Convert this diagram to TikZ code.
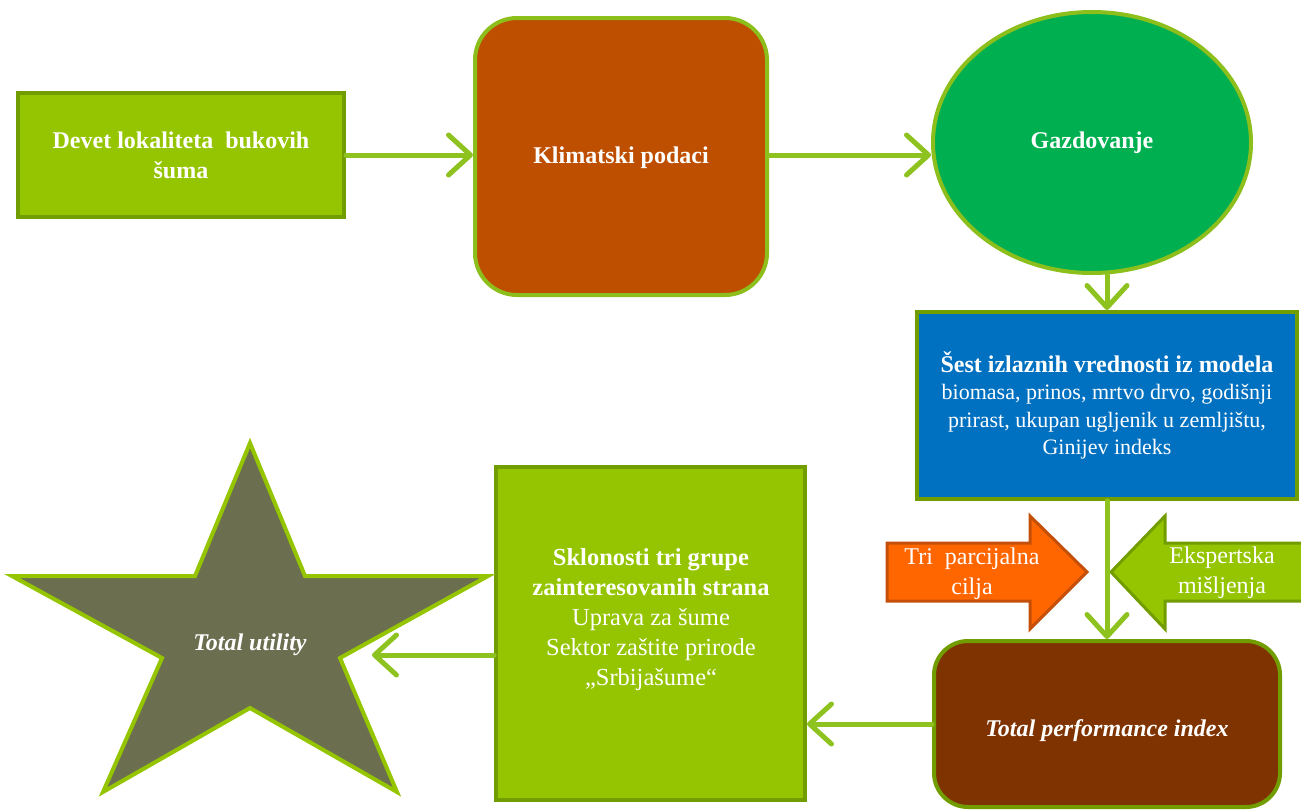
\documentclass[tikz,border=0pt]{standalone}
\usepackage{fontspec}
\setmainfont{Liberation Serif}
\usetikzlibrary{arrows.meta,shapes.geometric}
\definecolor{lgreen}{HTML}{95C500}
\definecolor{dgreen}{HTML}{729D00}
\definecolor{bgreen}{HTML}{8CBE1C}
\definecolor{agreen}{HTML}{8DC21F}
\definecolor{klim}{HTML}{BF4F00}
\definecolor{gaz}{HTML}{00B050}
\definecolor{blu}{HTML}{0070C0}
\definecolor{brn}{HTML}{7F3300}
\definecolor{orng}{HTML}{FF6600}
\definecolor{orngb}{HTML}{C44F08}
\definecolor{starf}{HTML}{6B6F4F}
\begin{document}
\begin{tikzpicture}[x=1pt,y=-1pt,
  box/.style={draw=dgreen, line width=4pt, inner sep=0pt, text=white, align=center},
  bf/.style={font=\fontsize{24}{30}\selectfont\bfseries},
  rg/.style={font=\fontsize{24}{30}\selectfont},
  txt/.style={text=white, align=center, inner sep=0pt},
  conn/.style={draw=agreen, line width=5pt, line cap=round,
    -{Straight Barb[length=22pt,width=40pt,line cap=round,round]}}]
\useasboundingbox (0,0) rectangle (1301,809);

% top row
\node[box, fill=lgreen, minimum width=326pt, minimum height=124pt, bf] (b1) at (181,155)
  {Devet lokaliteta\ \ bukovih\\ šuma};
\node[box, draw=bgreen, fill=klim, rounded corners=42pt, minimum width=292pt, minimum height=277pt] (b2) at (621,156.5) {};
\node[txt, bf] (b2t) at (621,158) {Klimatski podaci};
\node[box, draw=bgreen, ellipse, fill=gaz, minimum width=318pt, minimum height=261pt, bf] (gz) at (1092,142.5)
  {Gazdovanje};

% blue model box
\node[box, fill=blu, minimum width=380pt, minimum height=187pt,
      font=\fontsize{22}{27.5}\selectfont] (bl) at (1107,405.5)
  {{\fontsize{24}{27.5}\selectfont\bfseries Šest izlaznih vrednosti iz modela}\\
   biomasa, prinos, mrtvo drvo, godišnji\\
   prirast, ukupan ugljenik u zemljištu,\\
   Ginijev indeks};

% block arrows
\draw[fill=orng, draw=orngb, line width=3pt, line join=miter]
  (887,543) -- (1030,543) -- (1030,516) -- (1087,572) -- (1030,629) -- (1030,601) -- (887,601) -- cycle;
\node[txt, rg] (tri) at (972,574) {Tri\ \ parcijalna\\ cilja};
\draw[fill=lgreen, draw=dgreen, line width=3pt, line join=miter]
  (1310,543) -- (1165,543) -- (1165,516) -- (1111,572) -- (1165,629) -- (1165,601) -- (1310,601) -- cycle;
\node[txt, rg] (eks) at (1222,573) {Ekspertska\\ mišljenja};

% brown index box
\node[box, fill=brn, rounded corners=34pt, minimum width=346pt, minimum height=166pt] (br) at (1107,724)
  {};
\node[txt, font=\fontsize{24}{30}\selectfont\bfseries\itshape] (brt) at (1107,731) {Total performance index};

% stakeholders box
\node[box, fill=lgreen, minimum width=309pt, minimum height=333pt] (sk) at (650.5,633.5) {};
\node[txt, font=\fontsize{24.5}{30}\selectfont] (skt) at (651,620)
  {\textbf{Sklonosti tri grupe}\\
   \textbf{zainteresovanih strana}\\
   Uprava za šume\\
   Sektor zaštite prirode\\
   ,,Srbijašume``};

% star
\draw[fill=starf, draw=lgreen, line width=4pt, line join=miter]
  (250,443) -- (305,576) -- (488,576) -- (340,658) -- (397,792) -- (250,708)
  -- (103,792) -- (162,658) -- (12,576) -- (195,576) -- cycle;
\node[txt, font=\fontsize{24}{30}\selectfont\bfseries\itshape] (tu) at (250,645) {Total utility};
\coordinate (starend) at (372,655);

% connectors
\draw[conn] (b1.east) -- (b1.east -| b2.west);
\draw[conn] (b2.east |- b1.east) -- (b1.east -| gz.west);
\draw[conn] (gz.south -| bl.north) -- (bl.north);
\draw[conn] (bl.south) -- (br.north);
\draw[conn] (br.west) -- (br.west -| sk.east);
\draw[conn] (sk.west |- starend) -- (starend);
\end{tikzpicture}
\end{document}
